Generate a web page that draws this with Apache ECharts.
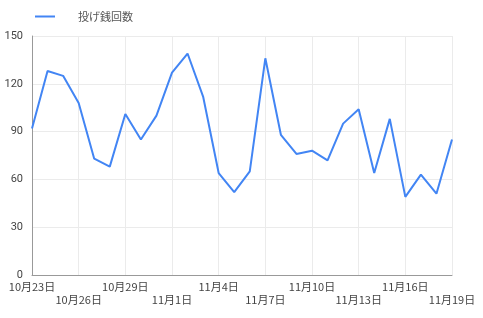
<!DOCTYPE html>
<html><head><meta charset="utf-8">
<script src="https://cdn.jsdelivr.net/npm/echarts@6/dist/echarts.min.js"></script>
<style>html,body{margin:0;padding:0;background:#fff}#c{width:483px;height:318px}</style>
</head><body><div id="c"></div>
<script>
var categories = ['10月23日','10月24日','10月25日','10月26日','10月27日','10月28日','10月29日','10月30日','10月31日','11月1日','11月2日','11月3日','11月4日','11月5日','11月6日','11月7日','11月8日','11月9日','11月10日','11月11日','11月12日','11月13日','11月14日','11月15日','11月16日','11月17日','11月18日','11月19日'];
var seriesName = '投げ銭回数';
var values = [92,128,125,108,73,68,101,85,100,127,139,112,64,52,65,136,88,76,78,72,95,104,64,98,49,63,51,85];
var yTicks = [0,30,60,90,120,150];

var chart = echarts.init(document.getElementById('c'), null, {renderer:'canvas'});
chart.setOption({
  animation:false,
  legend:{left:30, top:6, itemWidth:20, itemHeight:2, itemGap:10,
    icon:'rect',
    textStyle:{fontSize:11, color:'#555', padding:[0,0,0,18], fontFamily:'Noto Sans CJK JP'},
    data:[seriesName]},
  grid:{left:32, right:31, top:36, bottom:43},
  xAxis:{type:'category', data:categories, boundaryGap:false,
    axisLine:{lineStyle:{color:'#999', width:1}},
    axisTick:{show:false},
    splitLine:{show:true, interval:2, lineStyle:{color:'#ebebeb'}},
    axisLabel:{interval:2, margin:5, fontSize:11, color:'#444', lineHeight:13,
      fontFamily:'Noto Sans CJK JP',
      formatter:function(v,i){ return (i%6===0)? v : '\n'+v; }}
  },
  yAxis:{type:'value', min:yTicks[0], max:yTicks[yTicks.length-1], interval:30,
    axisLine:{show:true, lineStyle:{color:'#999'}},
    axisTick:{show:false},
    splitLine:{lineStyle:{color:'#ebebeb'}},
    axisLabel:{fontSize:11, color:'#444', margin:9, fontFamily:'Roboto'}
  },
  series:[{name:seriesName, type:'line', data:values, showSymbol:false, symbol:'none',
    lineStyle:{color:'#4285f4', width:2}, itemStyle:{color:'#4285f4'}}]
});
</script></body></html>
